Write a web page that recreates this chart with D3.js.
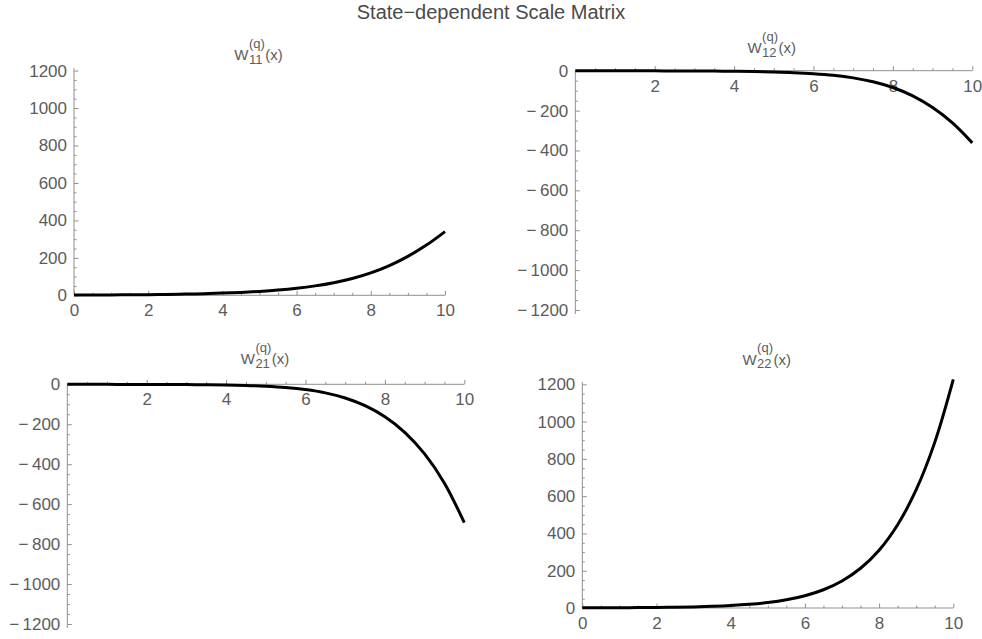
<!DOCTYPE html>
<html>
<head>
<meta charset="utf-8">
<script src="https://cdn.jsdelivr.net/npm/d3@7"></script>
<style>
  html, body { margin: 0; padding: 0; background: #fff; }
  svg { display: block; font-family: "Liberation Sans", Arial, sans-serif; }
</style>
</head>
<body>
<svg id="chart" width="982" height="639"></svg>
<script>
// Sample points along x
const xs = [0, 0.5, 1, 1.5, 2, 2.5, 3, 3.5, 4, 4.5, 5, 5.5, 6, 6.5, 7, 7.5, 8, 8.5, 9, 9.5, 10];

// Entries of the state-dependent scale matrix W^(q)(x)
const w11 = [1, 1.45, 2.0, 2.7, 3.6, 4.9, 6.5, 8.7, 11.7, 15.6, 20.9, 28, 37.6, 50.4, 67.5, 90, 120, 159, 208, 268, 340];
const w12 = [0, -0.15, -0.3, -0.5, -0.75, -1.05, -1.5, -2.1, -3.0, -4.4, -6.5, -9.7, -15, -23.2, -36, -55.5, -84.4, -126.5, -185, -262, -362];
const w21 = [0, -0.15, -0.3, -0.5, -0.75, -1.1, -1.6, -2.4, -3.7, -5.9, -9.7, -15.9, -26.3, -42.8, -68.5, -106.9, -162.4, -240.4, -348.6, -495, -693];
const w22 = [1, 1.25, 1.65, 2.2, 3.0, 4.2, 6.0, 8.8, 13.0, 19.5, 29.2, 43.9, 65.8, 98.0, 145.1, 213.3, 310.3, 446.9, 634.6, 888.4, 1226];

// Tick values
const xTicksFull = [0, 2, 4, 6, 8, 10];
const xTicksNoZero = [2, 4, 6, 8, 10];
const yTicksPos = [0, 200, 400, 600, 800, 1000, 1200];
const yTicksNeg = [-1200, -1000, -800, -600, -400, -200, 0];

const chartTitle = "State\u2212dependent Scale Matrix";
const panelSubs = ["11", "12", "21", "22"];

// Panel layout (pixel boxes)
const panels = [
  { sub: panelSubs[0], values: w11, yDomain: [0, 1200], yTicks: yTicksPos, xTicks: xTicksFull,
    left: 74, right: 445, yTop: 70.6, yBottom: 295.3, titleX: 258.5, titleY: 60 },
  { sub: panelSubs[1], values: w12, yDomain: [-1200, 0], yTicks: yTicksNeg, xTicks: xTicksNoZero,
    left: 575.3, right: 972.3, yTop: 70.7, yBottom: 310, titleX: 771.7, titleY: 53 },
  { sub: panelSubs[2], values: w21, yDomain: [-1200, 0], yTicks: yTicksNeg, xTicks: xTicksNoZero,
    left: 67.3, right: 464.3, yTop: 384.3, yBottom: 624, titleX: 265, titleY: 364 },
  { sub: panelSubs[3], values: w22, yDomain: [0, 1200], yTicks: yTicksPos, xTicks: xTicksFull,
    left: 582.3, right: 953.3, yTop: 384.3, yBottom: 608, titleX: 766.7, titleY: 364.5 }
];

const axisColor = "#8f8f8f";
const labelColor = "#5c5c5c";
const labelSize = 17;
const fmt = d => (d < 0 ? "\u2212\u2009" + Math.abs(d) : String(d));

const svg = d3.select("#chart");

svg.append("text")
  .attr("x", 491).attr("y", 19)
  .attr("text-anchor", "middle")
  .attr("font-size", 20)
  .attr("fill", "#4a4a4a")
  .text(chartTitle);

panels.forEach(p => {
  const x = d3.scaleLinear().domain([0, 10]).range([p.left, p.right]);
  const y = d3.scaleLinear().domain(p.yDomain).range([p.yBottom, p.yTop]);
  const y0 = y(0);
  const g = svg.append("g");

  // axis lines (slightly padded beyond the plotted range)
  g.append("line")
    .attr("x1", x(0)).attr("x2", x(10))
    .attr("y1", y0).attr("y2", y0)
    .attr("stroke", axisColor).attr("stroke-width", 1);
  const yLo = Math.max(p.yTop, p.yBottom) + (p.yDomain[0] < 0 ? 4 : 0);
  const yHi = Math.min(p.yTop, p.yBottom) - (p.yDomain[1] > 0 ? 2.5 : 0);
  g.append("line")
    .attr("x1", x(0)).attr("x2", x(0))
    .attr("y1", yLo).attr("y2", yHi)
    .attr("stroke", axisColor).attr("stroke-width", 1);

  // x axis: major + minor ticks pointing up
  const xMinor = d3.range(0, 10.001, 0.5).filter(v => v % 2 !== 0);
  g.append("g").attr("transform", `translate(0,${y0})`)
    .call(d3.axisBottom(x).tickValues(xMinor).tickSize(-2.5).tickFormat(""))
    .call(s => s.select(".domain").remove())
    .call(s => s.selectAll("line").attr("stroke", axisColor));
  g.append("g").attr("transform", `translate(0,${y0})`)
    .call(d3.axisBottom(x).tickValues(p.xTicks).tickSize(-4.5).tickPadding(9).tickFormat(fmt))
    .call(s => s.select(".domain").remove())
    .call(s => s.selectAll("line").attr("stroke", axisColor))
    .call(s => s.selectAll("text").attr("fill", labelColor)
      .attr("font-size", labelSize).attr("font-family", "Liberation Sans, Arial, sans-serif"));

  // y axis: major + minor ticks pointing right
  const yMinor = d3.range(p.yDomain[0], p.yDomain[1] + 1, 50).filter(v => v % 200 !== 0);
  g.append("g").attr("transform", `translate(${x(0)},0)`)
    .call(d3.axisLeft(y).tickValues(yMinor).tickSize(-2.5).tickFormat(""))
    .call(s => s.select(".domain").remove())
    .call(s => s.selectAll("line").attr("stroke", axisColor));
  g.append("g").attr("transform", `translate(${x(0)},0)`)
    .call(d3.axisLeft(y).tickValues(p.yTicks).tickSize(-4.5).tickPadding(7).tickFormat(fmt))
    .call(s => s.select(".domain").remove())
    .call(s => s.selectAll("line").attr("stroke", axisColor))
    .call(s => s.selectAll("text").attr("fill", labelColor)
      .attr("font-size", labelSize).attr("font-family", "Liberation Sans, Arial, sans-serif"));

  // curve
  const line = d3.line()
    .x((d, i) => x(xs[i]))
    .y(d => y(d))
    .curve(d3.curveCatmullRom.alpha(0.5));
  g.append("path")
    .datum(p.values)
    .attr("d", line)
    .attr("fill", "none")
    .attr("stroke", "#000")
    .attr("stroke-width", 3)
    .attr("stroke-linejoin", "round");

  // panel title: W with superscript (q), subscript ij, then (x)
  const tg = svg.append("g").attr("fill", labelColor);
  const wT = tg.append("text").attr("x", 0).attr("y", 0).attr("font-size", 15).text("W");
  const wW = wT.node().getComputedTextLength();
  const sup = tg.append("text").attr("x", wW + 0.5).attr("y", -12.5).attr("font-size", 13).text("(q)");
  const sub = tg.append("text").attr("x", wW + 0.5).attr("y", 3.5).attr("font-size", 13).text(p.sub);
  const sW = Math.max(sup.node().getComputedTextLength(), sub.node().getComputedTextLength());
  const xT = tg.append("text").attr("x", wW + 0.5 + sW + 0.5).attr("y", 0).attr("font-size", 15).text("(x)");
  const total = wW + 1 + sW + xT.node().getComputedTextLength();
  tg.attr("transform", `translate(${p.titleX - total / 2},${p.titleY})`);
});
</script>
</body>
</html>
